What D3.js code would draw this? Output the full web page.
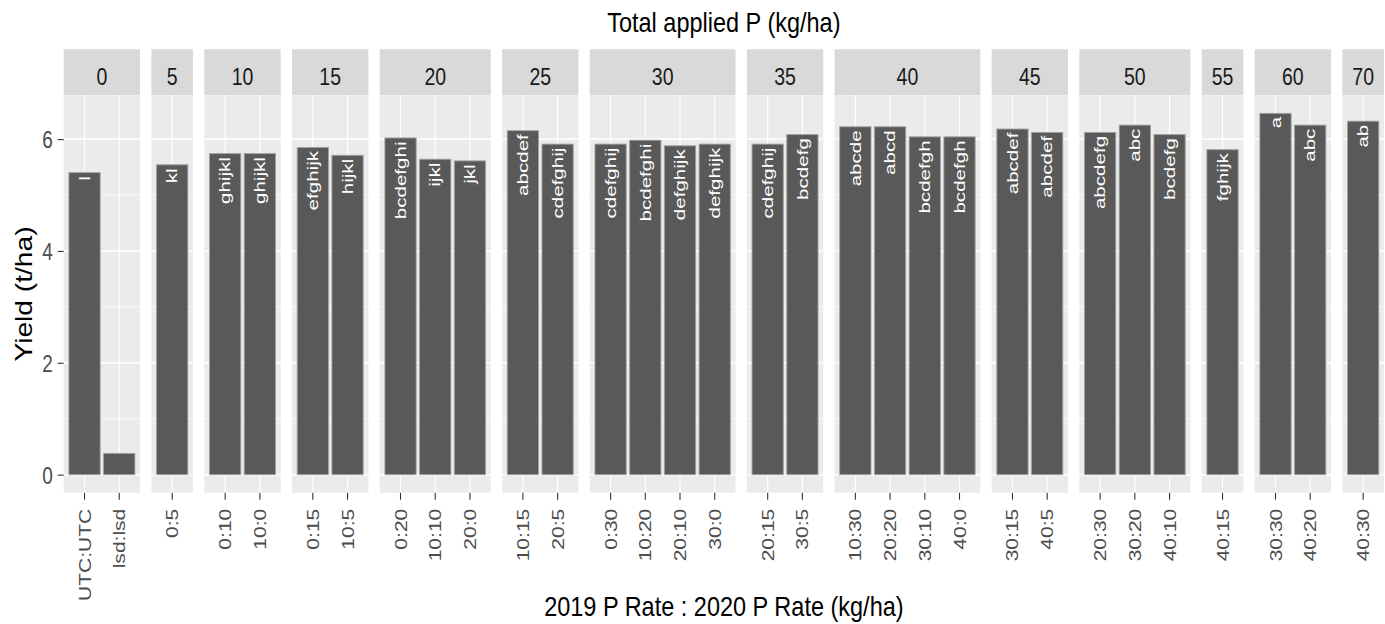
<!DOCTYPE html>
<html>
  <head>
    <meta charset='utf-8'>
    <title></title>
    <script src='https://d3js.org/d3.v7.min.js'></script>
    <style>
      body { margin: 0; background: #fff; }
      svg { display: block; }
      text { font-family: 'Liberation Sans', Arial, sans-serif; }
      .axis path.domain { display: none; }
      .axis line { stroke: #333; stroke-width: 1.1px; }
      .axis text { fill: #4d4d4d; }
    </style>
  </head>
  <body>
  <script type='text/javascript'>

    // 2019:2020 rate combos, grouped by total applied P
    var rates = ['UTC:UTC', 'lsd:lsd', '0:5', '0:10', '10:0', '0:15', '10:5', '0:20', '10:10', '20:0',
                 '10:15', '20:5', '0:30', '10:20', '20:10', '30:0', '20:15', '30:5',
                 '10:30', '20:20', '30:10', '40:0', '30:15', '40:5', '20:30', '30:20', '40:10',
                 '40:15', '30:30', '40:20', '40:30'];
    var totals = ['0', '0', '5', '10', '10', '15', '15', '20', '20', '20',
                  '25', '25', '30', '30', '30', '30', '35', '35',
                  '40', '40', '40', '40', '45', '45', '50', '50', '50',
                  '55', '60', '60', '70'];
    var yields = [5.40, 0.38, 5.54, 5.74, 5.74, 5.85, 5.71, 6.02, 5.64, 5.61,
                  6.15, 5.91, 5.91, 5.98, 5.88, 5.91, 5.91, 6.08,
                  6.22, 6.22, 6.04, 6.04, 6.18, 6.12, 6.12, 6.25, 6.08,
                  5.81, 6.46, 6.25, 6.32];
    var letters = ['l', '', 'kl', 'ghijkl', 'ghijkl', 'efghijk', 'hijkl', 'bcdefghi', 'ijkl', 'jkl',
                   'abcdef', 'cdefghij', 'cdefghij', 'bcdefghi', 'defghijk', 'defghijk', 'cdefghij', 'bcdefg',
                   'abcde', 'abcd', 'bcdefgh', 'bcdefgh', 'abcdef', 'abcdef', 'abcdefg', 'abc', 'bcdefg',
                   'fghijk', 'a', 'abc', 'ab'];

    var width = 1385;
    var height = 624;

    var plot = {left: 63.7, right: 1384, top: 95.3, bottom: 492.7, stripTop: 49.3, gap: 11.3};

    var data = rates.map(function(r, i) {
      return {rate: r, total: totals[i], yield: yields[i], label: letters[i]};
    });

    var panels = Array.from(new Set(totals)).map(function(t) {
      return {total: t, cats: data.filter(function(d) { return d.total === t; })};
    });

    // free x space: panel width proportional to (n + 0.2)
    var units = d3.sum(panels, function(p) { return p.cats.length + 0.2; });
    var unit = (plot.right - plot.left - plot.gap * (panels.length - 1)) / units;

    var cursor = plot.left;
    panels.forEach(function(p) {
      p.x0 = cursor;
      p.x1 = cursor + (p.cats.length + 0.2) * unit;
      p.x = d3.scaleBand()
              .domain(p.cats.map(function(d) { return d.rate; }))
              .range([p.x0, p.x1])
              .paddingInner(0.1)
              .paddingOuter(0.15);
      cursor = p.x1 + plot.gap;
    });

    var ymax = d3.max(yields);
    var y = d3.scaleLinear()
              .domain([-0.05 * ymax, ymax * 1.05])
              .range([plot.bottom, plot.top]);

    var major = y.ticks(4);
    var step = major[1] - major[0];
    var minor = major.map(function(t) { return t + step / 2; })
                     .concat([major[0] - step / 2])
                     .filter(function(t) { return t > y.domain()[0] && t < y.domain()[1]; });

    var svg = d3.select('body')
              .append('svg')
              .attr('width', width)
              .attr('height', height)
              .style('background', 'white');

    var g = svg.selectAll('.panel')
      .data(panels)
      .enter().append('g')
      .attr('class', 'panel');

    // strip
    g.append('rect')
      .attr('x', function(p) { return p.x0; })
      .attr('y', plot.stripTop)
      .attr('width', function(p) { return p.x1 - p.x0; })
      .attr('height', plot.top - plot.stripTop)
      .style('fill', '#d9d9d9');

    g.append('text')
      .attr('transform', function(p) { return 'translate(' + ((p.x0 + p.x1) / 2) + ',84.5) scale(1,1.25)'; })
      .attr('text-anchor', 'middle')
      .style('font-size', '19.5px')
      .style('fill', '#1a1a1a')
      .text(function(p) { return p.total; });

    // panel background
    g.append('rect')
      .attr('x', function(p) { return p.x0; })
      .attr('y', plot.top)
      .attr('width', function(p) { return p.x1 - p.x0; })
      .attr('height', plot.bottom - plot.top)
      .style('fill', '#ebebeb');

    g.each(function(p) {
      var pg = d3.select(this);

      pg.selectAll('.minor')
        .data(minor)
        .enter().append('line')
        .attr('x1', p.x0).attr('x2', p.x1)
        .attr('y1', function(d) { return y(d); })
        .attr('y2', function(d) { return y(d); })
        .style('stroke', '#fff')
        .style('stroke-width', 0.8);

      pg.selectAll('.major')
        .data(major)
        .enter().append('line')
        .attr('x1', p.x0).attr('x2', p.x1)
        .attr('y1', function(d) { return y(d); })
        .attr('y2', function(d) { return y(d); })
        .style('stroke', '#fff')
        .style('stroke-width', 1.5);

      pg.selectAll('.vgrid')
        .data(p.cats)
        .enter().append('line')
        .attr('x1', function(d) { return p.x(d.rate) + p.x.bandwidth() / 2; })
        .attr('x2', function(d) { return p.x(d.rate) + p.x.bandwidth() / 2; })
        .attr('y1', plot.top).attr('y2', plot.bottom)
        .style('stroke', '#fff')
        .style('stroke-width', 1.2);

      pg.selectAll('.bar')
        .data(p.cats)
        .enter().append('rect')
        .attr('class', 'bar')
        .attr('x', function(d) { return p.x(d.rate); })
        .attr('y', function(d) { return y(d.yield); })
        .attr('width', p.x.bandwidth())
        .attr('height', function(d) { return y(0) - y(d.yield); })
        .style('fill', '#595959')
        .style('stroke', '#a0a0a0')
        .style('stroke-width', 0.9);

      pg.selectAll('.lab')
        .data(p.cats)
        .enter().append('text')
        .attr('transform', function(d) {
          return 'translate(' + (p.x(d.rate) + p.x.bandwidth() / 2) + ',' + (y(d.yield) + 3.5) + ') rotate(-90) scale(1.42,1)';
        })
        .attr('dy', '0.36em')
        .attr('text-anchor', 'end')
        .style('font-size', '14.5px')
        .style('fill', '#fff')
        .text(function(d) { return d.label; });

      var ax = pg.append('g')
        .attr('class', 'axis axis--x')
        .attr('transform', 'translate(0,' + plot.bottom + ')')
        .call(d3.axisBottom(p.x).tickSize(7));

      ax.selectAll('text')
        .attr('x', null)
        .attr('y', null)
        .attr('dy', '0.36em')
        .attr('transform', 'translate(0,16) rotate(-90) scale(1.26,1)')
        .attr('text-anchor', 'end')
        .style('font-size', '16.7px');
    });

    // y axis
    var yax = svg.append('g')
      .attr('class', 'axis axis--y')
      .attr('transform', 'translate(' + plot.left + ',0)')
      .call(d3.axisLeft(y).tickValues(major).tickSize(6));

    yax.selectAll('text')
      .attr('x', null)
      .attr('dy', null)
      .attr('transform', 'translate(-11,0) scale(1,1.25)')
      .attr('dy', '0.36em')
      .attr('text-anchor', 'end')
      .style('font-size', '19px');

    // titles
    svg.append('text')
      .attr('transform', 'translate(' + ((plot.left + plot.right) / 2) + ',32) scale(1,1.2)')
      .attr('text-anchor', 'middle')
      .style('font-size', '23.5px')
      .text('Total applied P (kg/ha)');

    svg.append('text')
      .attr('transform', 'translate(' + ((plot.left + plot.right) / 2) + ',616) scale(1,1.2)')
      .attr('text-anchor', 'middle')
      .style('font-size', '23.5px')
      .text('2019 P Rate : 2020 P Rate (kg/ha)');

    svg.append('text')
      .attr('transform', 'translate(32,' + ((plot.top + plot.bottom) / 2) + ') rotate(-90) scale(1.2,1)')
      .attr('text-anchor', 'middle')
      .style('font-size', '23.5px')
      .text('Yield (t/ha)');

  </script>
  </body>
</html>
